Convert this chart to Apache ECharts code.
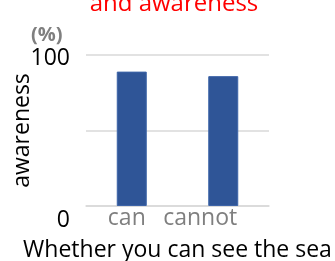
<!DOCTYPE html>
<html><head><meta charset="utf-8">
<script src="https://cdn.jsdelivr.net/npm/echarts@6/dist/echarts.min.js"></script>
<style>html,body{margin:0;padding:0;background:#fff}#c{width:335px;height:261px}</style>
</head><body><div id="c"></div>
<script>
var categories = ['can', 'cannot'];
var awareness = [89, 86];
var yTickLabels = [0, 100];
var FONT = '"Open Sans", sans-serif';
var chart = echarts.init(document.getElementById('c'), null, {renderer: 'canvas'});
chart.setOption({
  animation: false,
  title: {
    text: 'and awareness', left: 169, top: -13, textAlign: 'center',
    textStyle: {color: '#FF0000', fontSize: 24, fontWeight: 'normal', fontFamily: FONT}
  },
  graphic: [{
    type: 'text', left: 31, top: 25,
    style: {text: '(%)', fill: '#7F7F7F', font: 'bold 20px ' + FONT}
  }],
  grid: {left: 86, right: 66, top: 55, bottom: 55, containLabel: false, outerBoundsMode: 'none'},
  xAxis: {
    type: 'category', data: categories,
    name: 'Whether you can see the sea', nameLocation: 'middle', nameGap: 33, nameMoveOverlap: false,
    nameTextStyle: {color: '#000', fontSize: 23, fontFamily: FONT},
    axisLine: {lineStyle: {color: '#D9D9D9', width: 1.5}},
    axisTick: {show: false},
    axisLabel: {color: '#7F7F7F', fontSize: 23, fontFamily: FONT, margin: 1, interval: 0, hideOverlap: false,
      align: 'right', padding: [0, -14, 0, 0]}
  },
  yAxis: {
    type: 'value', min: 0, max: 100, interval: 50,
    name: 'awareness', nameLocation: 'middle', nameRotate: 90, nameGap: 52, nameMoveOverlap: false,
    nameTextStyle: {color: '#000', fontSize: 23, fontFamily: FONT},
    axisLine: {show: false}, axisTick: {show: false},
    splitLine: {lineStyle: {color: '#D9D9D9', width: 1.5}},
    axisLabel: {
      color: '#000', fontSize: 23, fontFamily: FONT, margin: 16,
      formatter: function (v) {
        if (yTickLabels.indexOf(v) < 0) return '';
        return v === 0 ? '{z|' + v + '}' : '{a|' + v + '}';
      },
      rich: {
        z: {fontSize: 23, fontFamily: FONT, color: '#000', padding: [28, 0, 0, 0]},
        a: {fontSize: 23, fontFamily: FONT, color: '#000', padding: [6, 0, 0, 0]}
      }
    }
  },
  series: [{
    type: 'bar', data: awareness, barWidth: 30,
    itemStyle: {color: '#2F5597', borderColor: '#3D64A8', borderWidth: 1}
  }]
});
</script></body></html>
